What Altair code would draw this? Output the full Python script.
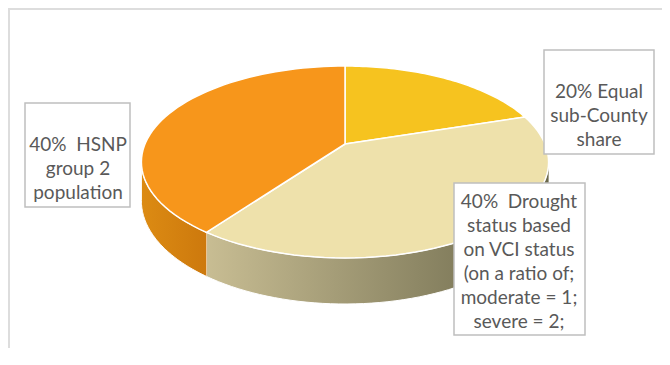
import math
import altair as alt
import pandas as pd

# ---- data ----
categories = ["Equal sub-County share", "Drought status based on VCI status", "HSNP group 2 population"]
shares = [20, 40, 40]
label_lines = [
    ["20% Equal", "sub-County", "share"],
    ["40%\u00a0 Drought", "status based", "on VCI status", "(on a ratio of;", "moderate = 1;", "severe = 2;"],
    ["40%\u00a0 HSNP", "group 2", "population"],
]

# ---- styles ----
top_colors = ["#F6C31F", "#EEE1AB", "#F7961B"]
side_colors = [["#E0AE10", "#C99A0A"], ["#C8BD93", "#6A674A"], ["#DC8B13", "#CD790D"]]

# ---- layout (pixels) ----
W, H = 654, 340
CX, CY = 337, 136
RX, RY, P, D = 200, 92.6, 0.1875, 37.4
N = 60
VIS0, VIS1 = math.radians(100.8), math.radians(259.2)
box_layout = [  # x, x2, y, y2, text x, first-line y
    (536, 646, 42, 146, 591, 84),
    (446, 577, 175, 327, 511, 194),
    (17, 122, 95, 199, 70, 137),
]

df = pd.DataFrame({"category": categories, "share": shares})
xs = alt.Scale(domain=[0, W], nice=False, zero=False)
ys = alt.Scale(domain=[0, H], nice=False, zero=False, reverse=True)


def base():
    return (
        alt.Chart(df)
        .transform_joinaggregate(total="sum(share)")
        .transform_window(cum="sum(share)")
        .transform_calculate(
            a0="(datum.cum - datum.share) / datum.total * 2 * PI",
            a1="datum.cum / datum.total * 2 * PI",
        )
    )


# side walls (one layer per slice, each with its own gradient)
side_layers = []
for i, cat in enumerate(categories):
    c0, c1 = side_colors[i]
    layer = (
        base()
        .transform_filter(alt.datum.category == cat)
        .transform_calculate(s0=f"max(datum.a0, {VIS0})", s1=f"min(datum.a1, {VIS1})")
        .transform_filter("datum.s1 > datum.s0")
        .transform_calculate(k=f"sequence(0, {2 * N + 2})")
        .transform_flatten(["k"])
        .transform_calculate(
            t=f"datum.k <= {N} ? datum.s0 + (datum.s1 - datum.s0) * datum.k / {N} : datum.s1 - (datum.s1 - datum.s0) * (datum.k - {N + 1}) / {N}",
        )
        .transform_calculate(w=f"1 + {P} * cos(datum.t)")
        .transform_calculate(
            px=f"{CX} + {RX} * sin(datum.t) / datum.w",
            py=f"{CY} - {RY} * cos(datum.t) / datum.w + (datum.k > {N} ? {D} / datum.w : 0)",
        )
        .mark_line(
            fill=alt.Gradient(
                gradient="linear",
                stops=[alt.GradientStop(color=c0, offset=0), alt.GradientStop(color=c1, offset=1)],
                x1=0, x2=1, y1=0, y2=0,
            ),
            stroke="white",
            strokeWidth=1,
        )
        .encode(
            x=alt.X("px:Q", scale=xs, axis=None),
            y=alt.Y("py:Q", scale=ys, axis=None),
            order=alt.Order("k:Q"),
        )
    )
    side_layers.append(layer)

# top faces
top = (
    base()
    .transform_calculate(k=f"sequence(0, {N + 3})")
    .transform_flatten(["k"])
    .transform_calculate(t=f"datum.a0 + (datum.a1 - datum.a0) * clamp(datum.k - 1, 0, {N}) / {N}")
    .transform_calculate(w=f"1 + {P} * cos(datum.t)")
    .transform_calculate(
        px=f"(datum.k == 0 || datum.k == {N + 2}) ? {CX} : {CX} + {RX} * sin(datum.t) / datum.w",
        py=f"(datum.k == 0 || datum.k == {N + 2}) ? {CY} : {CY} - {RY} * cos(datum.t) / datum.w",
    )
    .mark_line(stroke="white", strokeWidth=1.5)
    .encode(
        x=alt.X("px:Q", scale=xs, axis=None),
        y=alt.Y("py:Q", scale=ys, axis=None),
        order=alt.Order("k:Q"),
        detail="category:N",
        fill=alt.Fill("category:N", scale=alt.Scale(domain=categories, range=top_colors), legend=None),
    )
)

# label boxes
lab = pd.DataFrame({
    "category": categories,
    "lines": label_lines,
    "bx": [b[0] for b in box_layout],
    "bx2": [b[1] for b in box_layout],
    "by": [b[2] for b in box_layout],
    "by2": [b[3] for b in box_layout],
    "tx": [b[4] for b in box_layout],
    "ty": [b[5] for b in box_layout],
})
boxes = alt.Chart(lab).mark_rect(fill="white", stroke="#BFBFBF", strokeWidth=1.5).encode(
    x=alt.X("bx:Q", scale=xs, axis=None), x2="bx2:Q",
    y=alt.Y("by:Q", scale=ys, axis=None), y2="by2:Q",
)
texts = alt.Chart(lab).mark_text(
    font="Lato", fontSize=19, color="#595959", lineHeight=24, align="center", baseline="middle"
).encode(
    x=alt.X("tx:Q", scale=xs, axis=None),
    y=alt.Y("ty:Q", scale=ys, axis=None),
    text="lines",
)

frame_top = alt.Chart(df).mark_rule(color="#DDDDDD", strokeWidth=2).encode(
    x=alt.value(0), x2=alt.value(W), y=alt.value(1)
)
frame_left = alt.Chart(df).mark_rule(color="#DDDDDD", strokeWidth=2).encode(
    x=alt.value(1), y=alt.value(0), y2=alt.value(H)
)

chart = (
    alt.layer(frame_top, frame_left, *side_layers, top, boxes, texts)
    .properties(width=W, height=H, padding=0, autosize=alt.AutoSizeParams(type="none"))
    .configure_view(strokeWidth=0)
)

chart.save("out.html", embed_options={"renderer": "svg", "actions": False})
